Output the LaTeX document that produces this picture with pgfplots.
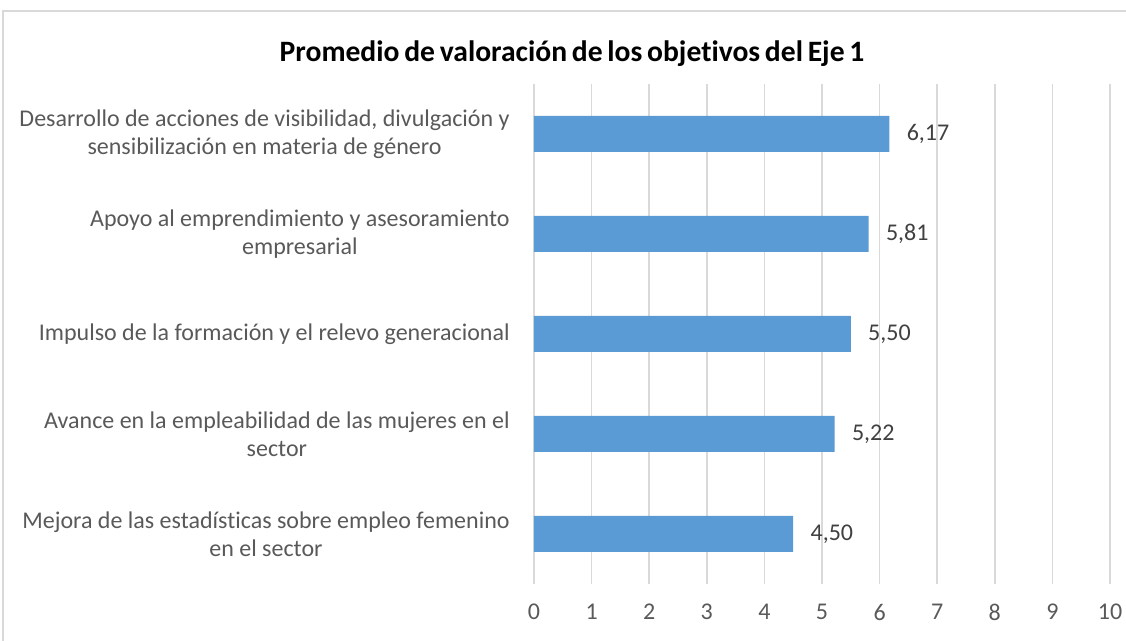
\documentclass[border=0pt]{standalone}
\usepackage{fontspec}
\setmainfont{Carlito}[Ligatures=NoCommon]
\usepackage{pgfplots}
\pgfplotsset{compat=1.18}
\definecolor{barblue}{HTML}{5B9BD5}
\definecolor{gridgray}{HTML}{D9D9D9}
\definecolor{labgray}{HTML}{595959}
\definecolor{datagray}{HTML}{404040}
\begin{document}
\begin{tikzpicture}
\useasboundingbox (0,0) rectangle (563pt,320.5pt);
\draw[gridgray, line width=0.75pt] (1.5pt,-20pt) rectangle (600pt,315pt);
\node[font=\bfseries\fontsize{14.8}{16}\selectfont] at (286pt,293.5pt) {\spaceskip=0.16em plus 0.05em Promedio de valoración de los objetivos del Eje 1};
\begin{axis}[
  at={(267pt,28.5pt)}, anchor=south west,
  scale only axis, width=288pt, height=250pt,
  xbar, bar width=18pt,
  xmin=0, xmax=10, xtick={0,...,10},
  ymin=-0.5, ymax=4.5, ytick={0,...,4},
  yticklabels={{Mejora de las estadísticas sobre empleo femenino\\en el sector},
               {Avance en la empleabilidad de las mujeres en el\\sector},
               {Impulso de la formación y el relevo generacional},
               {Apoyo al emprendimiento y asesoramiento\\empresarial},
               {Desarrollo de acciones de visibilidad, divulgación y\\sensibilización en materia de género}},
  axis line style={draw=none},
  major tick length=0pt,
  xmajorgrids, major grid style={gridgray, line width=0.75pt},
  /pgf/number format/assume math mode=true,
  yticklabel style={align=center, anchor=east, inner sep=0pt, xshift=-12pt,
                    font=\fontsize{12}{14}\selectfont, text=labgray},
  xticklabel style={anchor=center, inner sep=0pt, yshift=-14pt,
                    font=\fontsize{12}{14}\selectfont, text=labgray},
  clip=false,
]
\addplot[fill=barblue, draw=none, point meta=x,
  nodes near coords={\pgfmathprintnumber[fixed,fixed zerofill,precision=2,use comma,assume math mode=true]{\pgfplotspointmeta}},
  nodes near coords style={anchor=west, inner sep=0pt, xshift=8.5pt,
                           font=\fontsize{12}{14}\selectfont, text=datagray}]
  coordinates {(4.50,0) (5.22,1) (5.50,2) (5.81,3) (6.17,4)};
\end{axis}
\end{tikzpicture}
\end{document}
